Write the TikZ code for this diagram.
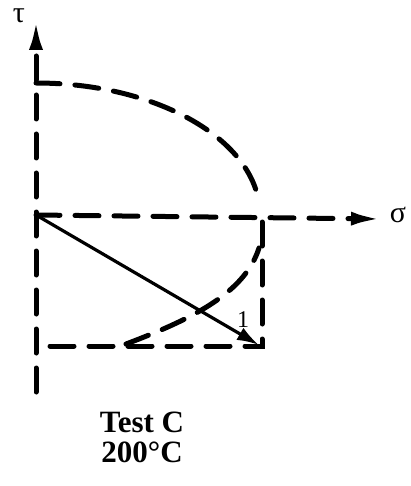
\documentclass[tikz,border=0pt]{standalone}
\usepackage{fontspec}
\setmainfont{Liberation Serif}
\usetikzlibrary{arrows.meta,positioning}

\tikzset{
  dashline/.style={line width=5pt, dash pattern=on 24pt off 15pt, line cap=round},
  loadpath/.style={line width=3.2pt, -{Latex[length=22pt,width=14pt]}},
  axistip/.style={-{Latex[length=30pt,width=14pt]}},
  axislabel/.style={font=\fontsize{30}{30}\selectfont, inner sep=0pt, anchor=base}
}

\begin{document}
\begin{tikzpicture}[x=1pt,y=-1pt]
\useasboundingbox (0,0) rectangle (411,486);
% axes
\coordinate (O) at (36,215);
\coordinate (ybot) at (36,392);
\coordinate (ytop) at (36,20);
\coordinate (xend) at (381,219);
\draw[dashline, axistip] (ybot) -- (ytop);
\draw[dashline, axistip] (O) -- (xend);
\node[axislabel] (tau) at (19,23) {τ};
\node[axislabel] (sigma) at (398,222) {σ};
% yield ellipse
\coordinate (ytau) at (36,83);
\draw[dashline] (ytau) arc[start angle=90, end angle=5, x radius=224pt, y radius=132pt];
% rectangle of the loading
\coordinate (corner) at (262,346);
\draw[dashline] (262,222) -- (corner) -- (36,346);
\draw[dashline] (126,344) .. controls (195,318) and (245,292) .. (259,248);
% load path
\node[font=\fontsize{24}{24}\selectfont] (one) at (243,320) {1};
\draw[loadpath] (O) -- (259,345);
\node[font=\fontsize{31}{30}\selectfont\bfseries, align=center] (title) at (142,437) {Test C\\200°C};
\end{tikzpicture}
\end{document}
